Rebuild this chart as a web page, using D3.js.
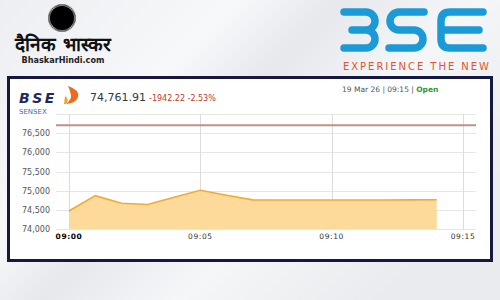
<!DOCTYPE html>
<html>
<head>
<meta charset="utf-8">
<script src="https://cdn.jsdelivr.net/npm/d3@7"></script>
<style>
  body { margin: 0; }
  svg { display: block; font-family: "DejaVu Sans", sans-serif; }
</style>
</head>
<body>
<svg width="500" height="300"></svg>
<script>
var svg = d3.select('svg');

// sensex minute data, 19 Mar 26
var minutes = [0, 1, 2, 3, 4, 5, 6, 7, 8, 9, 10, 11, 12, 13, 14];
var values = [74470, 74870, 74670, 74640, 74830, 75010, 74880, 74760, 74758, 74757, 74756, 74757, 74758, 74760, 74761.91];
var prevClose = 76704.13;
var yTicks = [74000, 74500, 75000, 75500, 76000, 76500, 77000];
var xTicks = [0, 5, 10, 15];
var xLabels = ["09:00", "09:05", "09:10", "09:15"];

// background
var defs = svg.append("defs");
var bg = defs.append("linearGradient").attr("id", "bg")
    .attr("x1", "0").attr("y1", "0").attr("x2", "1").attr("y2", "0.6");
bg.append("stop").attr("offset", "0").attr("stop-color", "#eceef1");
bg.append("stop").attr("offset", "0.35").attr("stop-color", "#f7f8fa");
bg.append("stop").attr("offset", "0.5").attr("stop-color", "#e6e8ec");
bg.append("stop").attr("offset", "0.7").attr("stop-color", "#f5f6f8");
bg.append("stop").attr("offset", "1").attr("stop-color", "#e9ebee");

svg.append("rect")
    .attr("width", "100%")
    .attr("height", "100%")
    .attr("fill", "url(#bg)");

// dainik bhaskar logo
var sun = svg.append("g").attr("transform", "translate(62,18)");
for (i = 0; i < 72; i++) {
    var a = i * Math.PI * 2 / 72;
    sun.append("line")
        .attr("x1", 10 * Math.cos(a)).attr("y1", 10 * Math.sin(a))
        .attr("x2", 14 * Math.cos(a)).attr("y2", 14 * Math.sin(a))
        .attr("stroke", "#222").attr("stroke-width", 0.8);
}
sun.append("circle").attr("r", 12).attr("fill", "#000");

svg.append("text")
    .attr("x", 63).attr("y", 51)
    .attr("text-anchor", "middle")
    .attr("font-size", 19).attr("font-weight", "bold")
    .attr("fill", "#111")
    .text("दैनिक भास्कर");

svg.append("text")
    .attr("x", 63).attr("y", 63)
    .attr("text-anchor", "middle")
    .attr("font-family", "'Liberation Sans Narrow', 'DejaVu Sans Condensed', sans-serif")
    .attr("font-size", 9).attr("font-weight", "bold")
    .attr("fill", "#222")
    .text("BhaskarHindi.com");

// bse logo
var bse = svg.append("g")
    .attr("fill", "none")
    .attr("stroke", "#1b9ad8")
    .attr("stroke-width", 7.5)
    .attr("stroke-linecap", "round");
bse.append("path").attr("d", "M344,12 H366 A9,9 0 0 1 366,30 H352 M366,30 A9,9 0 0 1 366,48 H344");
bse.append("path").attr("d", "M424,12 H399 A9,9 0 0 0 399,30 H414 A9,9 0 0 1 414,48 H389");
bse.append("path").attr("d", "M483,12 H450 Q441,12 441,21 V39 Q441,48 450,48 H483 M441,30 H479");

svg.append("text")
    .attr("x", 416).attr("y", 70)
    .attr("text-anchor", "middle")
    .attr("font-size", 10)
    .attr("textLength", 146)
    .attr("fill", "#e0552b")
    .text("EXPERIENCE THE NEW");

// panel
svg.append("rect")
    .attr("x", 8.5).attr("y", 77.5)
    .attr("width", 483).attr("height", 183)
    .attr("fill", "#fff")
    .attr("stroke", "#15183f")
    .attr("stroke-width", 3);

// scales
var x = d3.scaleLinear().domain([0, 15]).range([69, 463]);
var y = d3.scaleLinear().domain([74000, 77000]).range([229, 114]);

// grid
svg.selectAll(".hgrid")
    .data(yTicks)
    .enter()
    .append("line")
    .attr("x1", 56).attr("x2", 476)
    .attr("y1", function(d) { return Math.round(y(d)) + 0.5; })
    .attr("y2", function(d) { return Math.round(y(d)) + 0.5; })
    .attr("stroke", "#e6e6e6");

svg.selectAll(".vgrid")
    .data(xTicks)
    .enter()
    .append("line")
    .attr("x1", function(d) { return Math.round(x(d)) + 0.5; })
    .attr("x2", function(d) { return Math.round(x(d)) + 0.5; })
    .attr("y1", y(77000)).attr("y2", y(74000))
    .attr("stroke", "#dcdcdc");

// area + line
var area = d3.area()
    .x(function(d, i) { return x(minutes[i]); })
    .y0(y(74000))
    .y1(function(d) { return y(d); });
var line = d3.line()
    .x(function(d, i) { return x(minutes[i]); })
    .y(function(d) { return y(d); });

svg.append("path")
    .datum(values)
    .attr("d", area)
    .attr("fill", "#fdd895")
    .attr("opacity", 0.95);
svg.append("path")
    .datum(values)
    .attr("d", line)
    .attr("fill", "none")
    .attr("stroke", "#efac34")
    .attr("stroke-width", 1.6);

// previous close
svg.append("line")
    .attr("x1", 56).attr("x2", 476)
    .attr("y1", y(prevClose)).attr("y2", y(prevClose))
    .attr("stroke", "#b8948a")
    .attr("stroke-width", 2);

// axes labels
svg.selectAll(".ylab")
    .data(yTicks.slice(0, 6))
    .enter()
    .append("text")
    .attr("x", 50)
    .attr("y", function(d) { return y(d) + 3; })
    .attr("text-anchor", "end")
    .attr("font-size", 8)
    .attr("fill", "#555")
    .text(function(d) { return d3.format(",")(d); });

svg.selectAll(".xlab")
    .data(xTicks)
    .enter()
    .append("text")
    .attr("x", function(d) { return x(d); })
    .attr("y", 239)
    .attr("text-anchor", "middle")
    .attr("font-size", 7.5)
    .attr("letter-spacing", 0.6)
    .attr("font-weight", function(d, i) { return i == 0 ? "bold" : "normal"; })
    .attr("fill", function(d, i) { return i == 0 ? "#000" : "#333"; })
    .text(function(d, i) { return xLabels[i]; });

// header
svg.append("text")
    .attr("x", 19).attr("y", 103)
    .attr("font-size", 14).attr("font-weight", "bold")
    .attr("font-style", "italic")
    .attr("letter-spacing", 2.5)
    .attr("fill", "#1f2a5c")
    .text("BSE");
svg.append("path")
    .attr("d", "M68,86 Q80,90 78,97 Q76,103 66,104 Q72,99 71,95 Q70,90 68,86 Z")
    .attr("fill", "#ee6a1f");
svg.append("path")
    .attr("d", "M65,96 Q70,99 66,104 L64,104 Z")
    .attr("fill", "#f3a22a");
svg.append("text")
    .attr("x", 19).attr("y", 114)
    .attr("font-size", 7)
    .attr("fill", "#3b6fae")
    .text("SENSEX");

svg.append("text")
    .attr("x", 90).attr("y", 101)
    .attr("font-size", 11)
    .attr("fill", "#2d3a48")
    .text("74,761.91");
svg.append("text")
    .attr("x", 149).attr("y", 101)
    .attr("font-size", 8)
    .attr("fill", "#c0392b")
    .text("-1942.22 -2.53%");

var dt = svg.append("text")
    .attr("x", 342).attr("y", 92)
    .attr("font-size", 7.5)
    .attr("fill", "#555");
dt.append("tspan").text("19 Mar 26 | 09:15 | ");
dt.append("tspan").attr("fill", "#2e9b2e").attr("font-weight", "bold").text("Open");
</script>
</body>
</html>
